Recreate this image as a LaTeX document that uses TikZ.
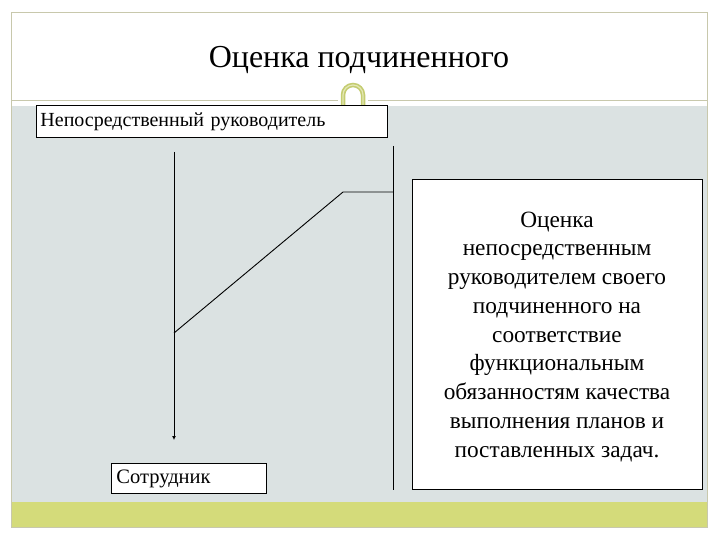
\documentclass[tikz,border=0pt]{standalone}
\usepackage{fontspec}
\setmainfont{Liberation Serif}
\usetikzlibrary{arrows.meta}
\definecolor{frameC}{RGB}{200,200,172}
\definecolor{bgC}{RGB}{219,226,226}
\definecolor{barC}{RGB}{212,219,122}
\definecolor{ringC}{RGB}{196,204,112}
\definecolor{ringL}{RGB}{228,232,180}
\begin{document}
\begin{tikzpicture}[x=1pt,y=-1pt,
  box/.style={draw=black,fill=white,line width=0.9pt},
  conn/.style={line width=0.9pt,black}]
\useasboundingbox (0,0) rectangle (720,540);
\fill[white] (0,0) rectangle (720,540);
% background areas
\fill[bgC] (12,106) rectangle (707,502);
\fill[barC] (12,502) rectangle (707,527);
\draw[frameC,line width=0.9pt] (11.5,12.5) rectangle (707.5,527);
\draw[frameC,line width=0.9pt] (12,100) -- (338,100);
\draw[frameC,line width=0.9pt] (368,100) -- (707,100);
% ring
\draw[ringC,line width=4.5pt] (343,105) -- (343,95) arc (180:360:10) -- (363,105);
\draw[ringL,line width=1.2pt] (343,105) -- (343,95) arc (180:360:10) -- (363,105);
% title
\node[anchor=base,inner sep=0pt] (title) at (359,68) {\fontsize{32}{38}\selectfont Оценка подчиненного};
% boxes
\node[box,anchor=north west,minimum width=351pt,minimum height=32pt,text width=343pt,align=left,inner xsep=4pt,inner ysep=0pt,font=\fontsize{20}{24}\selectfont] (boss) at (36,105) {Непосредственный руководитель};
\node[box,anchor=north west,minimum width=153pt,minimum height=30pt,text width=145pt,align=left,inner xsep=5pt,inner ysep=0pt,font=\fontsize{20.5}{24}\selectfont] (emp) at (111,463) {Сотрудник};
\node[box,anchor=north west,minimum width=290pt,minimum height=310pt,inner sep=0pt] (eval) at (412,179) {};
\node[anchor=base,align=center,inner sep=0pt,font=\fontsize{23.3}{28.75}\selectfont] (evaltext) at (557,457) {Оценка\\ непосредственным\\ руководителем своего\\ подчиненного на\\ соответствие\\ функциональным\\ обязанностям качества\\ выполнения планов и\\ поставленных задач.};
% connectors
\coordinate (a1) at (174,152);
\coordinate (a2) at (174,440);
\draw[conn,-{Latex[length=4pt,width=4pt]}] (a1) -- (a2);
\coordinate (d1) at (174,333);
\coordinate (d2) at (343,192);
\coordinate (d3) at (393,192);
\draw[conn] (d1) -- (d2) -- (d3);
\coordinate (r1) at (393,146);
\coordinate (r2) at (393,490);
\draw[conn] (r1) -- (r2);
\end{tikzpicture}
\end{document}
